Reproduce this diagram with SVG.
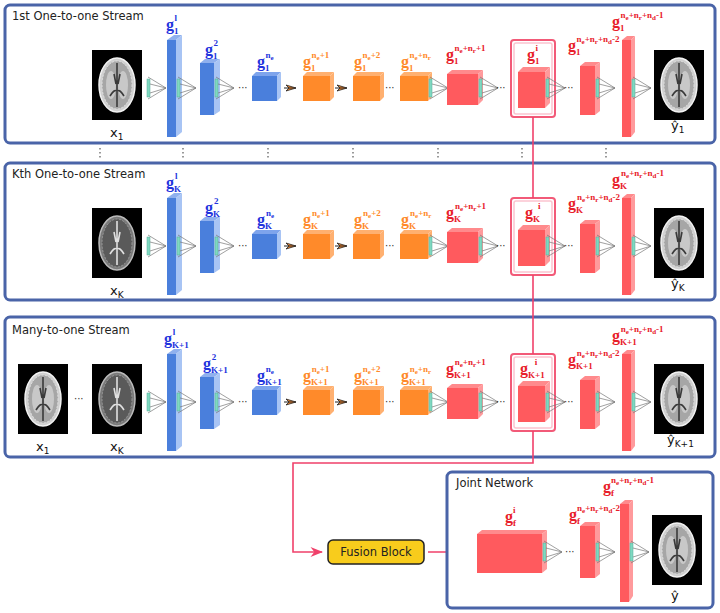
<svg xmlns="http://www.w3.org/2000/svg" width="720" height="613" viewBox="0 0 720 613">
<style>
.box{fill:#fff;stroke:#4a64a8;stroke-width:3}
.ttl{font-family:"DejaVu Sans",sans-serif;font-size:11.5px;fill:#222}
.lab{font-family:"Liberation Serif",serif;font-weight:bold;font-size:16px}
.sm{font-size:9px}
.xs{font-size:7px}
.b{fill:#2233dd}.o{fill:#ff8a2a}.r{fill:#e8202a}
.io{font-family:"DejaVu Sans",sans-serif;font-size:13px;fill:#111}
.dots{font-family:"DejaVu Sans",sans-serif;font-size:10px;fill:#333}
.vd{stroke:#555;stroke-width:1.2;stroke-dasharray:1.5 2.5}
.link{fill:none;stroke:#f0406a;stroke-width:1.6}
</style>
<defs>
<marker id="ah" viewBox="0 0 10 10" refX="9" refY="5" markerWidth="8" markerHeight="8" orient="auto"><path d="M0,1 L10,5 L0,9 L3,5 z" fill="#f0406a"/></marker>
<g id="cone"><rect x="0" y="-9" width="3" height="18" fill="#7fd8c0" stroke="#5a9" stroke-width="0.5"/><path d="M1,-11 L19,0 L1,11 M3,-4 L19,0 L3,5" fill="none" stroke="#777" stroke-width="0.7"/></g>
<g id="arr"><path d="M-6,-3 L4,0 L-6,3 L-3,0 z" fill="#ff8a2a" stroke="#222" stroke-width="0.8"/><line x1="-8" y1="0" x2="4" y2="0" stroke="#222" stroke-width="1"/></g>
<g id="brain"><rect x="0" y="0" width="50" height="70" fill="#000"/><ellipse cx="25" cy="35" rx="18" ry="27" fill="#d0d0d0" stroke="#f2f2f2" stroke-width="1.5"/><ellipse cx="25" cy="35" rx="15" ry="24" fill="#a6a6a6" stroke="#e0e0e0" stroke-width="1" stroke-dasharray="2 1.5"/><ellipse cx="19" cy="35" rx="5" ry="14" fill="#c8c8c8"/><ellipse cx="31" cy="35" rx="5" ry="14" fill="#c8c8c8"/><path d="M25,13 L25,57 M22,24 L24,34 M28,24 L26,34 M18,46 C21,41 23,40 24,41 M32,46 C29,41 27,40 26,41" stroke="#3a3a3a" stroke-width="1.6" fill="none"/></g>
<g id="brainD"><rect x="0" y="0" width="50" height="70" fill="#000"/><ellipse cx="25" cy="35" rx="18" ry="27" fill="#7a7a7a" stroke="#bbb" stroke-width="1.5"/><ellipse cx="25" cy="35" rx="15" ry="24" fill="#5a5a5a" stroke="#999" stroke-width="1" stroke-dasharray="2 1.5"/><path d="M25,13 L25,57 M22,24 L24,34 M28,24 L26,34 M18,46 C21,41 23,40 24,41 M32,46 C29,41 27,40 26,41" stroke="#e0e0e0" stroke-width="1.6" fill="none"/></g>
<g id="shapes">
<polygon points="167,40 174,35 182,35 176,40" fill="#8fb0ee"/>
<polygon points="176,40 182,35 182,132 176,137" fill="#a8c4f4"/>
<rect x="167" y="40" width="9" height="97" fill="#4a7fdc"/>
<use href="#cone" x="147" y="88"/>
<use href="#cone" x="177" y="88"/>
<polygon points="200,63 205,59 220,59 214,63" fill="#8fb0ee"/>
<polygon points="214,63 220,59 220,111 214,115" fill="#a8c4f4"/>
<rect x="200" y="63" width="14" height="52" fill="#4a7fdc"/>
<use href="#cone" x="215" y="88"/>
<text x="238" y="91" class="dots">···</text>
<polygon points="252,76 256,72 281,72 277,76" fill="#7ea4ec"/>
<polygon points="277,76 281,72 281,97 277,101" fill="#a8c4f4"/>
<rect x="252" y="76" width="25" height="25" fill="#4a7fdc"/>
<use href="#arr" x="292" y="88"/>
<polygon points="303,76 307,72 334,72 330,76" fill="#ffb070"/>
<polygon points="330,76 334,72 334,97 330,101" fill="#ffb070"/>
<rect x="303" y="76" width="27" height="25" fill="#ff8a2a"/>
<use href="#arr" x="343" y="88"/>
<polygon points="353,76 357,72 384,72 380,76" fill="#ffb070"/>
<polygon points="380,76 384,72 384,97 380,101" fill="#ffb070"/>
<rect x="353" y="76" width="27" height="25" fill="#ff8a2a"/>
<text x="385" y="91" class="dots">···</text>
<polygon points="400,76 404,72 432,72 428,76" fill="#ffb070"/>
<polygon points="428,76 432,72 432,97 428,101" fill="#ffb070"/>
<rect x="400" y="76" width="28" height="25" fill="#ff8a2a"/>
<use href="#cone" x="429" y="88"/>
<polygon points="447,74 452,70 483,70 478,74" fill="#ff8a8c"/>
<polygon points="478,74 483,70 483,100 478,105" fill="#ff9a9c"/>
<rect x="447" y="74" width="31" height="31" fill="#ff5a5e"/>
<use href="#cone" x="479" y="88"/>
<text x="496" y="91" class="dots">···</text>
<rect x="511" y="40" width="44" height="77" rx="3" fill="none" stroke="#f25a78" stroke-width="2"/>
<rect x="514" y="43" width="38" height="71" rx="2" fill="none" stroke="#fbc4cf" stroke-width="1.5"/>
<polygon points="518,72 523,67 550,67 545,72" fill="#ff8a8c"/>
<polygon points="545,72 550,67 550,103 545,108" fill="#ff9a9c"/>
<rect x="518" y="72" width="27" height="36" fill="#ff5a5e"/>
<use href="#cone" x="546" y="88"/>
<text x="564" y="91" class="dots">···</text>
<polygon points="580,66 585,62 600,62 595,66" fill="#ff8a8c"/>
<polygon points="595,66 600,62 600,111 595,115" fill="#ff9a9c"/>
<rect x="580" y="66" width="15" height="49" fill="#ff5a5e"/>
<use href="#cone" x="596" y="88"/>
<polygon points="622,40 627,36 635,36 631,40" fill="#ff8a8c"/>
<polygon points="631,40 635,36 635,132 631,137" fill="#ff9a9c"/>
<rect x="622" y="40" width="9" height="97" fill="#ff5a5e"/>
<use href="#cone" x="632" y="88"/>
</g>
</defs>

<g id="stream1">
<rect class="box" x="5" y="5" width="710" height="138" rx="5"/>
<text x="12" y="20" class="ttl">1st One-to-one Stream</text>
<use href="#shapes"/>
<use href="#brain" x="92" y="50"/>
<use href="#brain" x="654" y="50"/>
<text x="110" y="137" class="io">x<tspan class="sm" dy="3">1</tspan></text>
<text x="671" y="130" class="io">ŷ<tspan class="sm" dy="3">1</tspan></text>
<text class="lab b" x="166" y="30">g<tspan class="sm" dy="4">1</tspan><tspan class="sm" dx="-4" dy="-13">l</tspan></text>
<text class="lab b" x="205" y="55">g<tspan class="sm" dy="4">1</tspan><tspan class="sm" dx="-4" dy="-13">2</tspan></text>
<text class="lab b" x="257" y="67">g<tspan class="sm" dy="4">1</tspan><tspan class="sm" dx="-4" dy="-13">n<tspan class="xs" dy="2">e</tspan></tspan></text>
<text class="lab o" x="303" y="67">g<tspan class="sm" dy="4">1</tspan><tspan class="sm" dx="-4" dy="-13">n<tspan class="xs" dy="2">e</tspan><tspan dy="-2">+1</tspan></tspan></text>
<text class="lab o" x="354" y="67">g<tspan class="sm" dy="4">1</tspan><tspan class="sm" dx="-4" dy="-13">n<tspan class="xs" dy="2">e</tspan><tspan dy="-2">+2</tspan></tspan></text>
<text class="lab o" x="401" y="67">g<tspan class="sm" dy="4">1</tspan><tspan class="sm" dx="-4" dy="-13">n<tspan class="xs" dy="2">e</tspan><tspan dy="-2">+n</tspan><tspan class="xs" dy="2">r</tspan></tspan></text>
<text class="lab r" x="446" y="60">g<tspan class="sm" dy="4">1</tspan><tspan class="sm" dx="-4" dy="-13">n<tspan class="xs" dy="2">e</tspan><tspan dy="-2">+n</tspan><tspan class="xs" dy="2">r</tspan><tspan dy="-2">+1</tspan></tspan></text>
<text class="lab r" x="527" y="60">g<tspan class="sm" dy="4">1</tspan><tspan class="sm" dx="-4" dy="-13">i</tspan></text>
<text class="lab r" x="568" y="51">g<tspan class="sm" dy="4">1</tspan><tspan class="sm" dx="-4" dy="-13">n<tspan class="xs" dy="2">e</tspan><tspan dy="-2">+n</tspan><tspan class="xs" dy="2">r</tspan><tspan dy="-2">+n</tspan><tspan class="xs" dy="2">d</tspan><tspan dy="-2">-2</tspan></tspan></text>
<text class="lab r" x="612" y="27">g<tspan class="sm" dy="4">1</tspan><tspan class="sm" dx="-4" dy="-13">n<tspan class="xs" dy="2">e</tspan><tspan dy="-2">+n</tspan><tspan class="xs" dy="2">r</tspan><tspan dy="-2">+n</tspan><tspan class="xs" dy="2">d</tspan><tspan dy="-2">-1</tspan></tspan></text>
</g>

<g id="vdots">
<line class="vd" x1="100" y1="148" x2="100" y2="160"/><line class="vd" x1="183" y1="148" x2="183" y2="160"/>
<line class="vd" x1="268" y1="148" x2="268" y2="160"/><line class="vd" x1="353" y1="148" x2="353" y2="160"/>
<line class="vd" x1="438" y1="148" x2="438" y2="160"/><line class="vd" x1="522" y1="148" x2="522" y2="160"/>
<line class="vd" x1="606" y1="148" x2="606" y2="160"/>
</g>

<g id="streamK" transform="translate(0,158)">
<rect class="box" x="5" y="5" width="710" height="137" rx="5"/>
<text x="12" y="20" class="ttl">Kth One-to-one Stream</text>
<use href="#shapes"/>
<use href="#brainD" x="92" y="50"/>
<use href="#brain" x="654" y="50"/>
<text x="110" y="137" class="io">x<tspan class="sm" dy="3">K</tspan></text>
<text x="671" y="130" class="io">ŷ<tspan class="sm" dy="3">K</tspan></text>
<text class="lab b" x="166" y="30">g<tspan class="sm" dy="4">K</tspan><tspan class="sm" dx="-6" dy="-13">l</tspan></text>
<text class="lab b" x="205" y="55">g<tspan class="sm" dy="4">K</tspan><tspan class="sm" dx="-6" dy="-13">2</tspan></text>
<text class="lab b" x="257" y="67">g<tspan class="sm" dy="4">K</tspan><tspan class="sm" dx="-6" dy="-13">n<tspan class="xs" dy="2">e</tspan></tspan></text>
<text class="lab o" x="303" y="67">g<tspan class="sm" dy="4">K</tspan><tspan class="sm" dx="-6" dy="-13">n<tspan class="xs" dy="2">e</tspan><tspan dy="-2">+1</tspan></tspan></text>
<text class="lab o" x="354" y="67">g<tspan class="sm" dy="4">K</tspan><tspan class="sm" dx="-6" dy="-13">n<tspan class="xs" dy="2">e</tspan><tspan dy="-2">+2</tspan></tspan></text>
<text class="lab o" x="401" y="67">g<tspan class="sm" dy="4">K</tspan><tspan class="sm" dx="-6" dy="-13">n<tspan class="xs" dy="2">e</tspan><tspan dy="-2">+n</tspan><tspan class="xs" dy="2">r</tspan></tspan></text>
<text class="lab r" x="446" y="60">g<tspan class="sm" dy="4">K</tspan><tspan class="sm" dx="-6" dy="-13">n<tspan class="xs" dy="2">e</tspan><tspan dy="-2">+n</tspan><tspan class="xs" dy="2">r</tspan><tspan dy="-2">+1</tspan></tspan></text>
<text class="lab r" x="525" y="60">g<tspan class="sm" dy="4">K</tspan><tspan class="sm" dx="-2" dy="-13">i</tspan></text>
<text class="lab r" x="568" y="51">g<tspan class="sm" dy="4">K</tspan><tspan class="sm" dx="-6" dy="-13">n<tspan class="xs" dy="2">e</tspan><tspan dy="-2">+n</tspan><tspan class="xs" dy="2">r</tspan><tspan dy="-2">+n</tspan><tspan class="xs" dy="2">d</tspan><tspan dy="-2">-2</tspan></tspan></text>
<text class="lab r" x="612" y="27">g<tspan class="sm" dy="4">K</tspan><tspan class="sm" dx="-6" dy="-13">n<tspan class="xs" dy="2">e</tspan><tspan dy="-2">+n</tspan><tspan class="xs" dy="2">r</tspan><tspan dy="-2">+n</tspan><tspan class="xs" dy="2">d</tspan><tspan dy="-2">-1</tspan></tspan></text>
</g>

<g id="stream3" transform="translate(0,314)">
<rect class="box" x="5" y="3" width="710" height="140" rx="5"/>
<text x="12" y="20" class="ttl">Many-to-one Stream</text>
<use href="#shapes"/>
<use href="#brain" x="18" y="50"/>
<text x="74" y="88" class="dots">···</text>
<use href="#brainD" x="92" y="50"/>
<use href="#brain" x="654" y="50"/>
<text x="36" y="137" class="io">x<tspan class="sm" dy="3">1</tspan></text>
<text x="110" y="137" class="io">x<tspan class="sm" dy="3">K</tspan></text>
<text x="667" y="130" class="io">ŷ<tspan class="sm" dy="3">K+1</tspan></text>
<text class="lab b" x="164" y="30">g<tspan class="sm" dy="4">K+1</tspan><tspan class="sm" dx="-16" dy="-13">l</tspan></text>
<text class="lab b" x="203" y="55">g<tspan class="sm" dy="4">K+1</tspan><tspan class="sm" dx="-16" dy="-13">2</tspan></text>
<text class="lab b" x="257" y="67">g<tspan class="sm" dy="4">K+1</tspan><tspan class="sm" dx="-16" dy="-13">n<tspan class="xs" dy="2">e</tspan></tspan></text>
<text class="lab o" x="303" y="67">g<tspan class="sm" dy="4">K+1</tspan><tspan class="sm" dx="-16" dy="-13">n<tspan class="xs" dy="2">e</tspan><tspan dy="-2">+1</tspan></tspan></text>
<text class="lab o" x="354" y="67">g<tspan class="sm" dy="4">K+1</tspan><tspan class="sm" dx="-16" dy="-13">n<tspan class="xs" dy="2">e</tspan><tspan dy="-2">+2</tspan></tspan></text>
<text class="lab o" x="401" y="67">g<tspan class="sm" dy="4">K+1</tspan><tspan class="sm" dx="-16" dy="-13">n<tspan class="xs" dy="2">e</tspan><tspan dy="-2">+n</tspan><tspan class="xs" dy="2">r</tspan></tspan></text>
<text class="lab r" x="446" y="60">g<tspan class="sm" dy="4">K+1</tspan><tspan class="sm" dx="-16" dy="-13">n<tspan class="xs" dy="2">e</tspan><tspan dy="-2">+n</tspan><tspan class="xs" dy="2">r</tspan><tspan dy="-2">+1</tspan></tspan></text>
<text class="lab r" x="520" y="60">g<tspan class="sm" dy="4">K+1</tspan><tspan class="sm" dx="-10" dy="-13">i</tspan></text>
<text class="lab r" x="568" y="51">g<tspan class="sm" dy="4">K+1</tspan><tspan class="sm" dx="-16" dy="-13">n<tspan class="xs" dy="2">e</tspan><tspan dy="-2">+n</tspan><tspan class="xs" dy="2">r</tspan><tspan dy="-2">+n</tspan><tspan class="xs" dy="2">d</tspan><tspan dy="-2">-2</tspan></tspan></text>
<text class="lab r" x="612" y="27">g<tspan class="sm" dy="4">K+1</tspan><tspan class="sm" dx="-16" dy="-13">n<tspan class="xs" dy="2">e</tspan><tspan dy="-2">+n</tspan><tspan class="xs" dy="2">r</tspan><tspan dy="-2">+n</tspan><tspan class="xs" dy="2">d</tspan><tspan dy="-2">-1</tspan></tspan></text>
</g>

<g id="connectors">
<line class="link" x1="533" y1="117" x2="533" y2="198"/>
<line class="link" x1="533" y1="275" x2="533" y2="354"/>
<polyline class="link" points="533,431 533,463 293,463 293,552 322,552" marker-end="url(#ah)"/>
<line class="link" x1="428" y1="552" x2="472" y2="552" marker-end="url(#ah)"/>
</g>

<g id="fusion">
<rect x="328" y="540" width="96" height="24" rx="5" fill="#f8cc1c" stroke="#222" stroke-width="1.5"/>
<text x="376" y="556" text-anchor="middle" class="ttl" font-size="11">Fusion Block</text>
</g>

<g id="joint">
<rect class="box" x="447" y="472" width="266" height="136" rx="5"/>
<text x="456" y="487" class="ttl">Joint Network</text>
<polygon points="477,534 482,530 547,530 542,534" fill="#ff8a8c"/>
<polygon points="542,534 547,530 547,569 542,573" fill="#ff9a9c"/>
<rect x="477" y="534" width="65" height="39" fill="#ff5a5e"/>
<use href="#cone" x="543" y="552"/>
<text x="565" y="555" class="dots">···</text>
<polygon points="580,526 585,522 600,522 595,526" fill="#ff8a8c"/>
<polygon points="595,526 600,522 600,574 595,578" fill="#ff9a9c"/>
<rect x="580" y="526" width="15" height="52" fill="#ff5a5e"/>
<use href="#cone" x="596" y="552"/>
<polygon points="620,504 625,500 633,500 629,504" fill="#ff8a8c"/>
<polygon points="629,504 633,500 633,596 629,602" fill="#ff9a9c"/>
<rect x="620" y="504" width="9" height="98" fill="#ff5a5e"/>
<use href="#cone" x="630" y="552"/>
<use href="#brain" x="652" y="515"/>
<text x="671" y="600" class="io">ŷ</text>
<text class="lab r" x="505" y="522">g<tspan class="sm" dy="4">f</tspan><tspan class="sm" dx="-3" dy="-13">i</tspan></text>
<text class="lab r" x="569" y="520">g<tspan class="sm" dy="4">f</tspan><tspan class="sm" dx="-3" dy="-13">n<tspan class="xs" dy="2">e</tspan><tspan dy="-2">+n</tspan><tspan class="xs" dy="2">r</tspan><tspan dy="-2">+n</tspan><tspan class="xs" dy="2">d</tspan><tspan dy="-2">-2</tspan></tspan></text>
<text class="lab r" x="603" y="492">g<tspan class="sm" dy="4">f</tspan><tspan class="sm" dx="-3" dy="-13">n<tspan class="xs" dy="2">e</tspan><tspan dy="-2">+n</tspan><tspan class="xs" dy="2">r</tspan><tspan dy="-2">+n</tspan><tspan class="xs" dy="2">d</tspan><tspan dy="-2">-1</tspan></tspan></text>
</g>
</svg>
